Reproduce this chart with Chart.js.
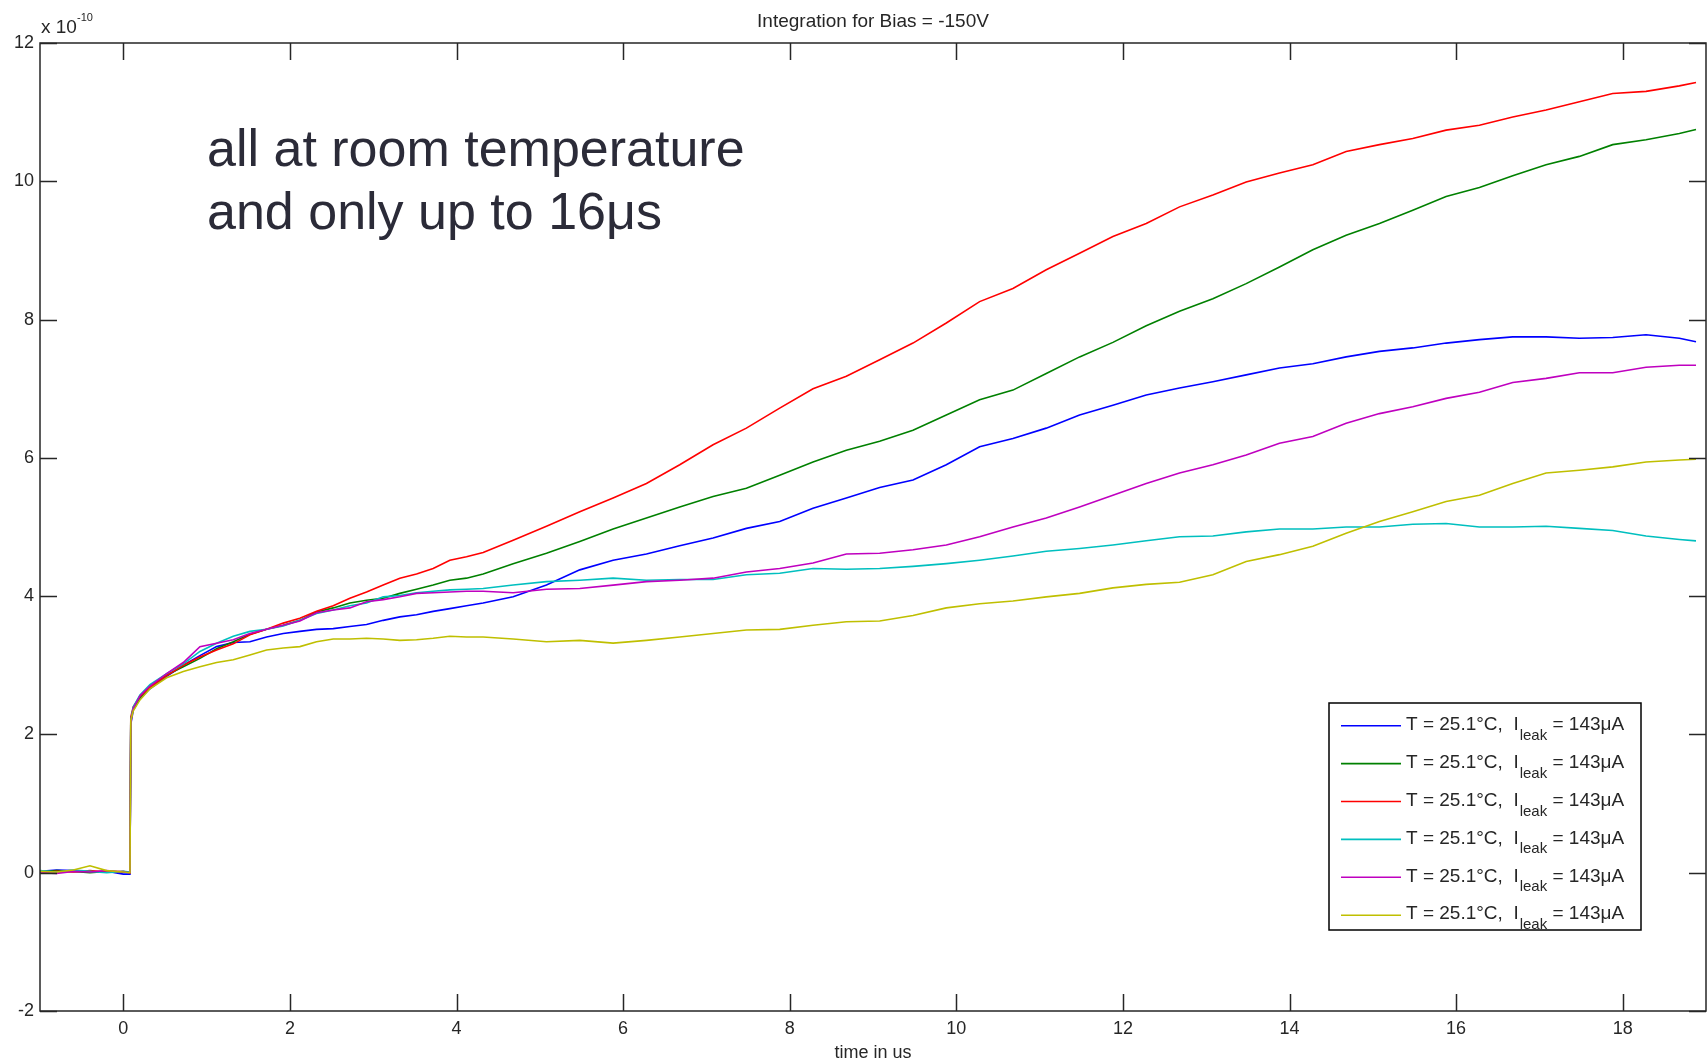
<!DOCTYPE html>
<html>
<head>
<meta charset="utf-8">
<title>Integration for Bias = -150V</title>
<script src="https://cdn.jsdelivr.net/npm/chart.js@4.4.1/dist/chart.umd.min.js"></script>
<style>
  html, body { margin: 0; padding: 0; background: #fff; }
  canvas { display: block; }
</style>
</head>
<body>
<canvas id="myChart" width="1707" height="1064"></canvas>
<script>
// time axis (us) shared by all traces
const timeUs = [
  -1, -0.8, -0.6, -0.4, -0.2, 0, 0.08, 0.09, 0.12, 0.2,
  0.32, 0.52, 0.72, 0.92, 1.12, 1.32, 1.52, 1.72, 1.92, 2.12, 2.32, 2.52, 2.72, 2.92, 3.12, 3.32, 3.52, 3.72, 3.92, 4.12, 4.32,
  4.68, 5.08, 5.48, 5.88, 6.28, 6.68, 7.08, 7.48, 7.88, 8.28,
  8.68, 9.08, 9.48, 9.88, 10.28, 10.68, 11.08, 11.48, 11.88, 12.28,
  12.68, 13.08, 13.48, 13.88, 14.28, 14.68, 15.08, 15.48, 15.88, 16.28,
  16.68, 17.08, 17.48, 17.88, 18.28, 18.68, 18.88
];

// integrated charge, units of 1e-10
const blueTrace = [
  0.02, 0.04, 0.03, 0.01, 0.02, -0.02, -0.02, 2.15, 2.35, 2.52,
  2.66, 2.84, 3.00, 3.14, 3.27, 3.33, 3.34, 3.41, 3.46, 3.49, 3.52, 3.53, 3.56, 3.59, 3.65, 3.70, 3.73, 3.78, 3.82, 3.86, 3.90,
  3.99, 4.16, 4.38, 4.52, 4.61, 4.73, 4.84, 4.98, 5.08, 5.27,
  5.42, 5.57, 5.68, 5.90, 6.16, 6.28, 6.43, 6.62, 6.76, 6.91,
  7.01, 7.10, 7.20, 7.30, 7.36, 7.46, 7.54, 7.59, 7.66, 7.71,
  7.75, 7.75, 7.73, 7.74, 7.78, 7.73, 7.68
];
const greenTrace = [
  0.01, 0.03, 0.02, 0.00, 0.02, 0.01, 0.00, 2.20, 2.38, 2.54,
  2.68, 2.86, 2.98, 3.10, 3.24, 3.34, 3.45, 3.52, 3.58, 3.65, 3.77, 3.83, 3.90, 3.94, 3.97, 4.04, 4.10, 4.16, 4.23, 4.26, 4.32,
  4.47, 4.62, 4.79, 4.97, 5.13, 5.29, 5.44, 5.56, 5.75, 5.94,
  6.11, 6.24, 6.40, 6.62, 6.84, 6.98, 7.22, 7.46, 7.67, 7.91,
  8.12, 8.30, 8.52, 8.76, 9.01, 9.22, 9.39, 9.58, 9.78, 9.91,
  10.08, 10.24, 10.36, 10.53, 10.60, 10.69, 10.75
];
const redTrace = [
  0.00, 0.02, 0.01, 0.03, 0.01, 0.02, 0.00, 2.25, 2.40, 2.55,
  2.68, 2.85, 3.00, 3.12, 3.22, 3.31, 3.44, 3.52, 3.61, 3.68, 3.78, 3.86, 3.97, 4.06, 4.16, 4.26, 4.32, 4.40, 4.52, 4.57, 4.63,
  4.81, 5.01, 5.22, 5.42, 5.63, 5.90, 6.19, 6.43, 6.72, 7.00,
  7.18, 7.42, 7.66, 7.95, 8.26, 8.45, 8.72, 8.96, 9.20, 9.39,
  9.63, 9.80, 9.99, 10.12, 10.24, 10.43, 10.53, 10.62, 10.74, 10.81,
  10.93, 11.03, 11.15, 11.27, 11.30, 11.38, 11.43
];
const cyanTrace = [
  0.03, 0.01, 0.04, 0.02, 0.00, 0.02, 0.01, 2.20, 2.40, 2.57,
  2.72, 2.88, 3.02, 3.20, 3.32, 3.42, 3.49, 3.52, 3.57, 3.65, 3.75, 3.80, 3.86, 3.90, 3.99, 4.01, 4.05, 4.07, 4.09, 4.10, 4.11,
  4.16, 4.21, 4.23, 4.26, 4.23, 4.24, 4.24, 4.31, 4.33, 4.40,
  4.39, 4.40, 4.43, 4.47, 4.52, 4.58, 4.65, 4.69, 4.74, 4.80,
  4.86, 4.87, 4.93, 4.97, 4.97, 5.00, 5.00, 5.04, 5.05, 5.00,
  5.00, 5.01, 4.98, 4.95, 4.87, 4.82, 4.80
];
const magentaTrace = [
  0.00, -0.01, 0.02, 0.01, 0.03, 0.01, 0.00, 2.17, 2.38, 2.56,
  2.70, 2.88, 3.04, 3.27, 3.32, 3.37, 3.46, 3.52, 3.58, 3.64, 3.76, 3.80, 3.83, 3.92, 3.95, 3.99, 4.04, 4.05, 4.06, 4.07, 4.07,
  4.05, 4.10, 4.11, 4.16, 4.21, 4.23, 4.26, 4.35, 4.40, 4.48,
  4.61, 4.62, 4.67, 4.74, 4.86, 5.00, 5.13, 5.29, 5.46, 5.63,
  5.78, 5.90, 6.04, 6.21, 6.31, 6.50, 6.64, 6.74, 6.86, 6.95,
  7.09, 7.15, 7.23, 7.23, 7.31, 7.34, 7.34
];
const yellowTrace = [
  0.02, 0.01, 0.04, 0.10, 0.03, 0.01, 0.00, 2.20, 2.34, 2.50,
  2.66, 2.82, 2.91, 2.98, 3.04, 3.08, 3.15, 3.22, 3.25, 3.27, 3.34, 3.38, 3.38, 3.39, 3.38, 3.36, 3.37, 3.39, 3.42, 3.41, 3.41,
  3.38, 3.34, 3.36, 3.32, 3.36, 3.41, 3.46, 3.51, 3.52, 3.58,
  3.63, 3.64, 3.72, 3.83, 3.89, 3.93, 3.99, 4.04, 4.12, 4.17,
  4.20, 4.31, 4.50, 4.60, 4.72, 4.91, 5.08, 5.22, 5.37, 5.46,
  5.63, 5.78, 5.82, 5.87, 5.94, 5.97, 5.98
];

const xTickValues = [0, 2, 4, 6, 8, 10, 12, 14, 16, 18];
const yTickValues = [-2, 0, 2, 4, 6, 8, 10, 12];

// legend entries: temperature (°C) and leakage current (µA) per run
const tempC = ['25.1', '25.1', '25.1', '25.1', '25.1', '25.1'];
const leakUA = ['143', '143', '143', '143', '143', '143'];

const traces = [blueTrace, greenTrace, redTrace, cyanTrace, magentaTrace, yellowTrace];
const traceColors = ['#0000ff', '#008000', '#ff0000', '#00bfbf', '#bf00bf', '#bfbf00'];

const FONT = '"Liberation Sans", Arial, Helvetica, sans-serif';
const INK = '#262626';

// matlab style box: frame, inward ticks, title, exponent, note and legend
const matlabBox = {
    id: 'matlabBox',
    afterDatasetsDraw: function(chart) {
        const ctx = chart.ctx;
        const a = chart.chartArea;
        const xs = chart.scales.x;
        const ys = chart.scales.y;

        ctx.save();
        ctx.strokeStyle = INK;
        ctx.lineWidth = 1.5;
        ctx.strokeRect(a.left, a.top, a.right - a.left, a.bottom - a.top);

        const len = 17;
        ctx.beginPath();
        xs.ticks.forEach(function(t) {
            const px = Math.round(xs.getPixelForValue(t.value)) + 0.5;
            ctx.moveTo(px, a.bottom); ctx.lineTo(px, a.bottom - len);
            ctx.moveTo(px, a.top); ctx.lineTo(px, a.top + len);
        });
        ys.ticks.forEach(function(t) {
            const py = Math.round(ys.getPixelForValue(t.value)) + 0.5;
            ctx.moveTo(a.left, py); ctx.lineTo(a.left + len, py);
            ctx.moveTo(a.right, py); ctx.lineTo(a.right - len, py);
        });
        ctx.stroke();

        // title
        ctx.fillStyle = INK;
        ctx.font = '19px ' + FONT;
        ctx.textAlign = 'center';
        ctx.textBaseline = 'middle';
        ctx.fillText('Integration for Bias = -150V', (a.left + a.right) / 2, 22);

        // y exponent
        ctx.textAlign = 'left';
        ctx.textBaseline = 'alphabetic';
        ctx.font = '19px ' + FONT;
        ctx.fillText('x 10', a.left + 1, 33);
        ctx.font = '11px ' + FONT;
        ctx.fillText('-10', a.left + 37, 21);

        // note
        ctx.fillStyle = '#2b2b38';
        ctx.font = '52px ' + FONT;
        ctx.fillText('all at room temperature', 207, 166);
        ctx.fillText('and only up to 16μs', 207, 229);

        // legend
        const box = { left: 1329, top: 703, right: 1641, bottom: 930 };
        ctx.fillStyle = '#fff';
        ctx.fillRect(box.left, box.top, box.right - box.left, box.bottom - box.top);
        ctx.strokeStyle = '#000';
        ctx.lineWidth = 1.5;
        ctx.strokeRect(box.left, box.top, box.right - box.left, box.bottom - box.top);

        chart.data.datasets.forEach(function(ds, i) {
            const cy = 725.7 + i * 37.9;
            ctx.strokeStyle = ds.borderColor;
            ctx.lineWidth = 1.6;
            ctx.beginPath();
            ctx.moveTo(1341, cy);
            ctx.lineTo(1401, cy);
            ctx.stroke();

            ctx.fillStyle = INK;
            ctx.textAlign = 'left';
            ctx.textBaseline = 'middle';
            ctx.font = '19px ' + FONT;
            let x = 1406;
            const head = 'T = ' + tempC[i] + '°C,  I';
            ctx.fillText(head, x, cy - 1);
            x += ctx.measureText(head).width + 1;
            ctx.font = '15px ' + FONT;
            ctx.textBaseline = 'alphabetic';
            ctx.fillText('leak', x, cy + 14);
            x += ctx.measureText('leak').width;
            ctx.font = '19px ' + FONT;
            ctx.textBaseline = 'middle';
            ctx.fillText(' = ' + leakUA[i] + 'μA', x, cy - 1);
        });

        ctx.restore();
    }
};

const ctx = document.getElementById('myChart').getContext('2d');

const myChart = new Chart(ctx, {
    type: 'line',
    data: {
        datasets: traces.map(function(trace, i) {
            return {
                label: 'T = ' + tempC[i] + '°C, I_leak = ' + leakUA[i] + 'μA',
                data: timeUs.map(function(t, k) { return { x: t, y: trace[k] }; }),
                borderColor: traceColors[i],
                backgroundColor: traceColors[i],
                borderWidth: 1.6,
                pointRadius: 0,
                tension: 0,
                fill: false,
                order: traces.length - i
            };
        })
    },
    options: {
        responsive: false,
        animation: false,
        layout: { padding: { top: 43, right: 1, left: 0, bottom: 0 } },
        plugins: {
            legend: { display: false },
            tooltip: { enabled: false },
            title: { display: false }
        },
        scales: {
            x: {
                type: 'linear',
                min: -1,
                max: 19,
                afterBuildTicks: function(scale) {
                    scale.ticks = xTickValues.map(function(v) { return { value: v }; });
                },
                afterFit: function(scale) { scale.height = 53; },
                grid: { display: false, drawTicks: false },
                border: { display: false },
                ticks: {
                    font: { size: 18, family: FONT },
                    color: INK,
                    padding: 7,
                    maxRotation: 0
                },
                title: {
                    display: true,
                    text: 'time in us',
                    font: { size: 18, family: FONT },
                    color: INK,
                    padding: { top: 0, bottom: 0 }
                }
            },
            y: {
                type: 'linear',
                min: -2,
                max: 12,
                afterBuildTicks: function(scale) {
                    scale.ticks = yTickValues.map(function(v) { return { value: v }; });
                },
                afterFit: function(scale) { scale.width = 40; },
                grid: { display: false, drawTicks: false },
                border: { display: false },
                ticks: {
                    font: { size: 18, family: FONT },
                    color: INK,
                    padding: 6
                }
            }
        }
    },
    plugins: [matlabBox]
});
</script>
</body>
</html>
